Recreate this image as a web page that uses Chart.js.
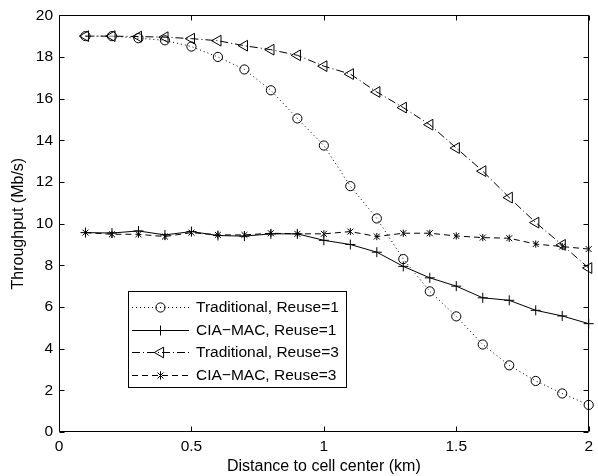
<!DOCTYPE html>
<html><head><meta charset="utf-8">
<script src="https://cdn.jsdelivr.net/npm/chart.js@4/dist/chart.umd.min.js"></script>
<style>html,body{margin:0;padding:0;background:#fff}canvas{display:block}</style>
</head><body>
<canvas id="c" width="598" height="476"></canvas>
<script>
// ---- data ----
const distances = [0.1,0.2,0.3,0.4,0.5,0.6,0.7,0.8,0.9,1.0,1.1,1.2,1.3,1.4,1.5,1.6,1.7,1.8,1.9,2.0];
const traditionalReuse1 = [19.0,19.0,18.9,18.8,18.5,18.0,17.4,16.4,15.05,13.75,11.8,10.25,8.3,6.75,5.55,4.2,3.2,2.45,1.85,1.3];
const ciaMacReuse1 = [9.57,9.55,9.65,9.46,9.62,9.43,9.4,9.51,9.51,9.2,9.0,8.63,7.95,7.4,7.0,6.44,6.32,5.84,5.57,5.2];
const traditionalReuse3 = [19.0,19.0,18.98,18.95,18.88,18.78,18.54,18.35,18.08,17.56,17.18,16.32,15.57,14.75,13.63,12.52,11.25,10.05,8.98,7.87];
const ciaMacReuse3 = [9.57,9.49,9.49,9.38,9.57,9.46,9.46,9.54,9.51,9.51,9.62,9.38,9.54,9.54,9.41,9.33,9.3,9.02,8.9,8.78];
const seriesLabels = ['Traditional, Reuse=1','CIA\u2212MAC, Reuse=1','Traditional, Reuse=3','CIA\u2212MAC, Reuse=3'];
const xTicks = [0,0.5,1,1.5,2];
const yTicks = [0,2,4,6,8,10,12,14,16,18,20];
const xTitle = 'Distance to cell center (km)';
const yTitle = 'Throughput (Mb/s)';

// ---- styles ----
const seriesValues = [traditionalReuse1, ciaMacReuse1, traditionalReuse3, ciaMacReuse3];
const dashes = [[1,3],[],[8,3,1,3],[6,4]];
const pointStyles = ['circle','cross','triangle','crossRot'];
const pointRadii = [4.6, 5, 6.2, 4.2];
const pointRotations = [0, 0, 270, 0];

const datasets = seriesValues.map((vals,i)=>({
  label: seriesLabels[i],
  data: distances.map((d,j)=>({x:d,y:vals[j]})),
  showLine: true,
  borderColor: '#000',
  borderWidth: 1,
  borderDash: dashes[i],
  pointStyle: pointStyles[i],
  pointRadius: pointRadii[i],
  pointHoverRadius: pointRadii[i],
  pointRotation: pointRotations[i],
  pointBorderWidth: 1,
  pointBorderColor: '#000',
  pointBackgroundColor: 'rgba(0,0,0,0)',
  backgroundColor: 'rgba(0,0,0,0)',
  tension: 0,
  clip: false
}));

const FONT = '"Liberation Sans", Arial, Helvetica, sans-serif';
Chart.defaults.font.family = FONT;
Chart.defaults.color = '#000';

function drawMarker(ctx, i, x, y){
  const r = pointRadii[i];
  ctx.beginPath();
  if (i===0){ ctx.arc(x,y,r,0,Math.PI*2); }
  else if (i===1){ ctx.moveTo(x-r,y); ctx.lineTo(x+r,y); ctx.moveTo(x,y-r); ctx.lineTo(x,y+r); }
  else if (i===2){
    // left-pointing equilateral triangle inscribed in radius r
    ctx.moveTo(x-r,y);
    ctx.lineTo(x+r*0.5,y-r*Math.sqrt(3)/2);
    ctx.lineTo(x+r*0.5,y+r*Math.sqrt(3)/2);
    ctx.closePath();
  } else {
    const d = r*Math.SQRT1_2;
    ctx.moveTo(x-d,y-d); ctx.lineTo(x+d,y+d); ctx.moveTo(x-d,y+d); ctx.lineTo(x+d,y-d);
    ctx.moveTo(x,y-r); ctx.lineTo(x,y+r);
  }
  ctx.stroke();
}

// vertical stroke that turns the rotated cross into MATLAB's asterisk
const asterisk = {
  id: 'asterisk',
  afterDatasetsDraw(chart){
    const ctx = chart.ctx;
    const meta = chart.getDatasetMeta(3);
    ctx.save(); ctx.strokeStyle = '#000'; ctx.lineWidth = 1; ctx.setLineDash([]);
    ctx.beginPath();
    meta.data.forEach(pt=>{ ctx.moveTo(pt.x, pt.y-3.6); ctx.lineTo(pt.x, pt.y+3.6); });
    ctx.stroke(); ctx.restore();
  }
};

const frameTicks = {
  id: 'frameTicks',
  afterDatasetsDraw(chart){
    const {ctx, chartArea:a, scales} = chart;
    const L = Math.round(a.left)+0.5, R = Math.round(a.right)-0.5, T = Math.round(a.top)+0.5, B = Math.round(a.bottom)-0.5;
    ctx.save();
    ctx.strokeStyle = '#000'; ctx.lineWidth = 1; ctx.setLineDash([]);
    ctx.beginPath();
    ctx.rect(L, T, R-L, B-T);
    xTicks.forEach(v=>{
      const px = Math.round(scales.x.getPixelForValue(v))+0.5;
      ctx.moveTo(px,B); ctx.lineTo(px,B-5);
      ctx.moveTo(px,T); ctx.lineTo(px,T+5);
    });
    yTicks.forEach(v=>{
      const py = Math.round(scales.y.getPixelForValue(v))+0.5;
      ctx.moveTo(L,py); ctx.lineTo(L+5,py);
      ctx.moveTo(R,py); ctx.lineTo(R-5,py);
    });
    ctx.stroke();
    ctx.restore();
  }
};

const boxLegend = {
  id: 'boxLegend',
  afterDraw(chart){
    const ctx = chart.ctx;
    const box = {l:128.5, t:291.5, r:346.5, b:387.5};
    const rows = [307, 329.5, 352, 374.5];
    ctx.save();
    ctx.fillStyle = '#fff'; ctx.strokeStyle = '#000'; ctx.lineWidth = 1;
    ctx.fillRect(box.l, box.t, box.r-box.l, box.b-box.t);
    ctx.strokeRect(box.l, box.t, box.r-box.l, box.b-box.t);
    rows.forEach((y,i)=>{
      const yy = Math.round(y)+0.5;
      ctx.setLineDash(dashes[i]);
      ctx.beginPath(); ctx.moveTo(132, yy); ctx.lineTo(189, yy); ctx.stroke();
      ctx.setLineDash([]);
      drawMarker(ctx, i, 160.5, yy);
      ctx.fillStyle = '#000';
      ctx.font = '15.5px ' + FONT;
      ctx.textBaseline = 'middle'; ctx.textAlign = 'left';
      ctx.fillText(seriesLabels[i], 196, y+1);
    });
    ctx.restore();
  }
};

new Chart(document.getElementById('c'), {
  type: 'scatter',
  data: { datasets },
  options: {
    responsive: false,
    devicePixelRatio: 1,
    animation: false,
    events: [],
    layout: { padding: { top: 12, right: 8, left: 0, bottom: 0 } },
    plugins: { legend: { display: false }, tooltip: { enabled: false } },
    scales: {
      x: {
        type: 'linear', min: 0, max: 2,
        afterBuildTicks: s => { s.ticks = xTicks.map(v=>({value:v})); },
        afterFit: s => { s.height = 44; },
        grid: { display: false, drawTicks: false },
        border: { display: false },
        ticks: { font: { size: 15.5 }, padding: 5, color: '#000', maxRotation: 0, callback: v => String(v) },
        title: { display: true, text: xTitle, font: { size: 16 }, color: '#000', padding: { top: 0, bottom: 0 } }
      },
      y: {
        type: 'linear', min: 0, max: 20,
        afterBuildTicks: s => { s.ticks = yTicks.map(v=>({value:v})); },
        afterFit: s => { s.width = 59; },
        grid: { display: false, drawTicks: false },
        border: { display: false },
        ticks: { font: { size: 15.5 }, padding: 6, color: '#000', callback: v => String(v) },
        title: { display: true, text: yTitle, font: { size: 16 }, color: '#000', padding: { top: 9, bottom: 0 } }
      }
    }
  },
  plugins: [frameTicks, asterisk, boxLegend]
});
</script>
</body></html>
